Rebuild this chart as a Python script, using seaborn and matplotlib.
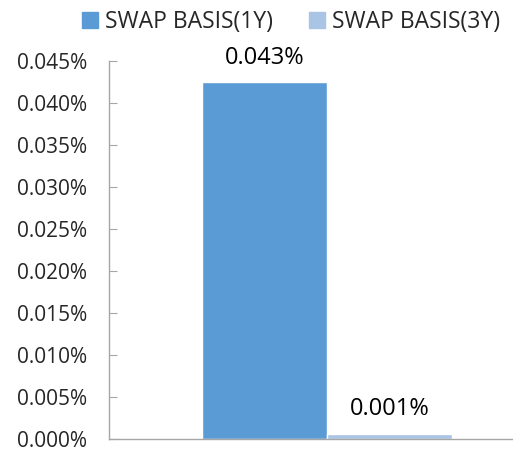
import pandas as pd
import numpy as np
import matplotlib.pyplot as plt
import seaborn as sns

# dados do gráfico
categorias = ['']
series = ['SWAP BASIS(1Y)', 'SWAP BASIS(3Y)']
valores = [0.0425, 0.0006]
rotulos = ['0.043%', '0.001%']
yticks = [0.000, 0.005, 0.010, 0.015, 0.020, 0.025, 0.030, 0.035, 0.040, 0.045]
cores = ['#5B9BD5', '#A9C4E4']

sns.set_style('white')
plt.rcParams['font.family'] = ['Open Sans', 'DejaVu Sans']

df = pd.DataFrame({'categoria': categorias * len(series), 'serie': series, 'valor': valores})

fig = plt.figure(figsize=(5.13, 4.5), dpi=100)
ax = fig.add_axes([109 / 513, 11 / 450, 404 / 513, 378 / 450])

sns.barplot(data=df, x='categoria', y='valor', hue='serie', palette=cores,
            width=0.8, saturation=1, ax=ax, legend=False)

for container, rotulo in zip(ax.containers, rotulos):
    ax.bar_label(container, labels=[rotulo], padding=9, fontsize=17, color='#000000')

ax.set_xlim(-0.698, 0.595)
ax.set_ylim(0, 0.045)
ax.set_yticks(yticks)
ax.set_yticklabels([f'{t:.3f}%' for t in yticks], fontsize=15)
ax.set_xticks([])
ax.set_xlabel('')
ax.set_ylabel('')
ax.tick_params(axis='y', direction='in', length=6, color='#A6A6A6', pad=16, left=True)

sns.despine(ax=ax)
for lado in ['left', 'bottom']:
    ax.spines[lado].set_color('#A6A6A6')
    ax.spines[lado].set_linewidth(1)

handles = [plt.Rectangle((0, 0), 1, 1, color=c) for c in cores]
fig.legend(handles, series, loc='center', bbox_to_anchor=(291 / 513, 1 - 22 / 450), ncol=2,
           frameon=False, fontsize=16.5, handlelength=0.7, handleheight=0.7,
           handletextpad=0.3, columnspacing=1.6)

fig.savefig('out.png', dpi=100)
